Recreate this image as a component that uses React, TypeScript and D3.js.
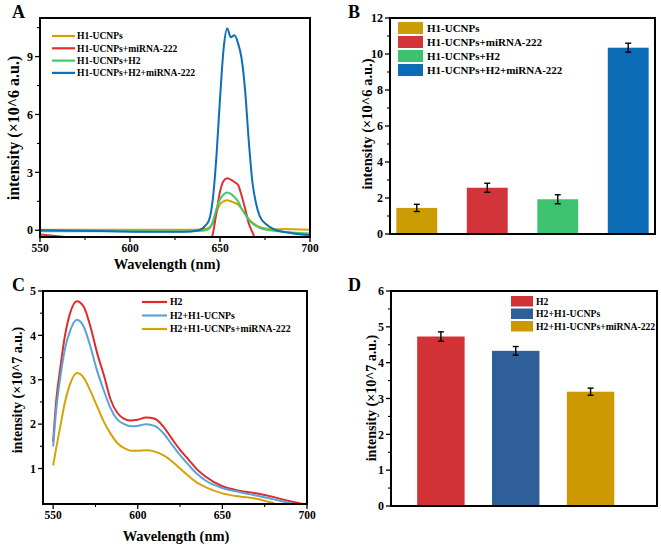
import React from "react";
import * as d3 from "d3";

const FONT = "'Liberation Serif', 'Times New Roman', Times, serif";

// ---------- Panel A: upconversion spectra ----------
const wlA = [550, 570, 590, 610, 630, 638, 642, 644, 646, 648, 650, 652, 654, 656, 658, 660, 662, 664, 666, 668, 670, 672, 676, 680, 685, 690, 700];
const aOrange = [0.03, 0.03, 0.02, 0.02, 0.02, 0.03, 0.06, 0.15, 0.35, 0.95, 1.35, 1.5, 1.56, 1.5, 1.43, 1.33, 1.12, 0.85, 0.58, 0.4, 0.27, 0.17, 0.08, 0.05, 0.06, 0.05, 0.03];
const aRed = [-0.22, -0.4, -0.6, -0.6, -0.6, -0.6, -0.6, -0.6, -0.2, 0.9, 2.0, 2.55, 2.7, 2.62, 2.5, 2.35, 1.8, 1.1, 0.35, -0.1, -0.5, -0.6, -0.6, -0.6, -0.6, -0.6, -0.6];
const aGreen = [-0.05, -0.05, -0.05, -0.06, -0.06, -0.04, 0.0, 0.08, 0.45, 1.1, 1.6, 1.85, 1.95, 1.88, 1.72, 1.5, 1.12, 0.82, 0.55, 0.35, 0.22, 0.13, 0.02, -0.03, -0.08, -0.12, -0.17];
const aBlue = [0.0, -0.02, -0.05, -0.08, -0.08, 0.0, 0.25, 0.55, 1.6, 3.8, 6.8, 9.4, 10.45, 10.0, 10.1, 9.7, 8.9, 7.2, 4.6, 2.5, 1.4, 0.75, 0.28, 0.05, -0.08, -0.15, -0.25];
const aNames = ["H1-UCNPs", "H1-UCNPs+miRNA-222", "H1-UCNPs+H2", "H1-UCNPs+H2+miRNA-222"];
const aColors = ["#D9A000", "#E0302F", "#3DCB6F", "#0D6EBD"];
const aXTicks = [550, 600, 650, 700];
const aXMinor = [575, 625, 675];
const aYTicks = [0, 3, 6, 9];
const aYMinor = [1.5, 4.5, 7.5, 10.5];

// ---------- Panel B: bar chart ----------
const bCategories = ["H1-UCNPs", "H1-UCNPs+miRNA-222", "H1-UCNPs+H2", "H1-UCNPs+H2+miRNA-222"];
const bValues = [1.45, 2.57, 1.93, 10.35];
const bErrors = [0.2, 0.25, 0.25, 0.25];
const bColors = ["#CC9C05", "#D2343A", "#3DC26F", "#0B6BB5"];
const bYTicks = [0, 2, 4, 6, 8, 10, 12];
const bYMinor = [1, 3, 5, 7, 9, 11];

// ---------- Panel C: fluorescence spectra ----------
const wlC = [550, 552, 554, 557, 560, 564, 568, 572, 576, 580, 584, 588, 592, 596, 600, 605, 610, 615, 620, 625, 630, 635, 640, 650, 660, 670, 680, 690, 700];
const cRed = [1.6, 2.6, 3.2, 4.0, 4.5, 4.77, 4.65, 4.2, 3.6, 3.1, 2.55, 2.25, 2.12, 2.08, 2.1, 2.15, 2.12, 1.95, 1.68, 1.42, 1.2, 0.98, 0.82, 0.6, 0.5, 0.44, 0.36, 0.26, 0.18];
const cBlue = [1.5, 2.4, 3.0, 3.7, 4.1, 4.35, 4.2, 3.75, 3.2, 2.75, 2.35, 2.1, 2.0, 1.95, 1.96, 2.0, 1.96, 1.8, 1.55, 1.3, 1.08, 0.88, 0.73, 0.56, 0.47, 0.39, 0.31, 0.22, 0.17];
const cGold = [1.07, 1.5, 1.9, 2.5, 2.9, 3.15, 3.05, 2.75, 2.4, 2.05, 1.78, 1.57, 1.46, 1.4, 1.4, 1.41, 1.38, 1.3, 1.17, 1.0, 0.83, 0.68, 0.58, 0.44, 0.37, 0.32, 0.22, 0.1, 0.05];
const cNames = ["H2", "H2+H1-UCNPs", "H2+H1-UCNPs+miRNA-222"];
const cColors = ["#E02A2A", "#5AA3D9", "#D6A20A"];
const cXTicks = [550, 600, 650, 700];
const cXMinor = [575, 625, 675];
const cYTicks = [1, 2, 3, 4, 5];
const cYMinor = [1.5, 2.5, 3.5, 4.5];

// ---------- Panel D: bar chart ----------
const dCategories = ["H2", "H2+H1-UCNPs", "H2+H1-UCNPs+miRNA-222"];
const dValues = [4.73, 4.33, 3.19];
const dErrors = [0.13, 0.12, 0.1];
const dColors = ["#D03236", "#2F5F98", "#CC9A00"];
const dYTicks = [0, 1, 2, 3, 4, 5, 6];
const dYMinor = [0.5, 1.5, 2.5, 3.5, 4.5, 5.5];

type Lin = d3.ScaleLinear<number, number>;

function YAxis({ y, x0, ticks, minor, fs = 12 }: { y: Lin; x0: number; ticks: number[]; minor: number[]; fs?: number }) {
  return (
    <g>
      {ticks.map((t) => (
        <g key={"t" + t}>
          <line x1={x0} x2={x0 - 5} y1={y(t)} y2={y(t)} stroke="#000" strokeWidth={1.3} />
          <text x={x0 - 7} y={y(t)} dy="0.35em" textAnchor="end" fontSize={fs} fontWeight="bold" fontFamily={FONT}>
            {t}
          </text>
        </g>
      ))}
      {minor.map((t) => (
        <line key={"m" + t} x1={x0} x2={x0 - 3} y1={y(t)} y2={y(t)} stroke="#000" strokeWidth={1.1} />
      ))}
    </g>
  );
}

function XAxis({ x, y0, ticks, minor, fs = 11.5 }: { x: Lin; y0: number; ticks: number[]; minor: number[]; fs?: number }) {
  return (
    <g>
      {ticks.map((t) => (
        <g key={"t" + t}>
          <line x1={x(t)} x2={x(t)} y1={y0} y2={y0 + 5} stroke="#000" strokeWidth={1.3} />
          <text x={x(t)} y={y0 + 15} textAnchor="middle" fontSize={fs} fontWeight="bold" fontFamily={FONT}>
            {t}
          </text>
        </g>
      ))}
      {minor.map((t) => (
        <line key={"m" + t} x1={x(t)} x2={x(t)} y1={y0} y2={y0 + 3} stroke="#000" strokeWidth={1.1} />
      ))}
    </g>
  );
}

function Frame({ x0, x1, y0, y1 }: { x0: number; x1: number; y0: number; y1: number }) {
  return <rect x={x0} y={y1} width={x1 - x0} height={y0 - y1} fill="none" stroke="#000" strokeWidth={2} />;
}

function YTitle({ x, y, text, fs }: { x: number; y: number; text: string; fs: number }) {
  return (
    <text
      transform={`translate(${x},${y}) rotate(-90)`}
      textAnchor="middle"
      dy="0.35em"
      fontSize={fs}
      fontWeight="bold"
      fontFamily={FONT}
    >
      {text}
    </text>
  );
}

function PanelLabel({ x, y, text }: { x: number; y: number; text: string }) {
  return (
    <text x={x} y={y} fontSize={18} fontWeight="bold" fontFamily={FONT}>
      {text}
    </text>
  );
}

export default function App() {
  // Panel A scales
  const ax = d3.scaleLinear().domain([550, 700]).range([40, 310]);
  const ay = d3.scaleLinear().domain([-0.35, 11]).range([237, 18]);
  const aSeries = [aOrange, aRed, aGreen, aBlue];
  const aLine = (vals: number[]) =>
    d3
      .line<number>()
      .x((_, i) => ax(wlA[i]))
      .y((v) => ay(v))
      .curve(d3.curveMonotoneX)(vals) || "";

  // Panel B scales
  const bx = d3.scaleBand<string>().domain(bCategories).range([390, 655]).paddingInner(0.42).paddingOuter(0.09);
  const by = d3.scaleLinear().domain([0, 12]).range([234, 18]);

  // Panel C scales
  const cx = d3.scaleLinear().domain([544, 700]).range([43, 307]);
  const cy = d3.scaleLinear().domain([0.2, 5]).range([504, 291]);
  const cSeries = [cRed, cBlue, cGold];
  const cLine = (vals: number[]) =>
    d3
      .line<number>()
      .x((_, i) => cx(wlC[i]))
      .y((v) => cy(v))
      .curve(d3.curveMonotoneX)(vals) || "";

  // Panel D scales
  const dx = d3.scaleBand<string>().domain(dCategories).range([391, 657]).paddingInner(0.366).paddingOuter(0.46).align(0.38);
  const dy = d3.scaleLinear().domain([0, 6]).range([506, 291]);

  return (
    <svg
      width={661}
      height={547}
      style={{ position: "absolute", left: 0, top: 0, background: "#fff" }}
      fontFamily={FONT}
    >
      <defs>
        <clipPath id="clipA">
          <rect x={40} y={18} width={270} height={219} />
        </clipPath>
        <clipPath id="clipC">
          <rect x={43} y={291} width={264} height={213} />
        </clipPath>
      </defs>
      <rect x={0} y={0} width={661} height={547} fill="#fff" />

      {/* ---------- A ---------- */}
      <PanelLabel x={12} y={18} text="A" />
      <g clipPath="url(#clipA)">
        {aSeries.map((s, i) => (
          <path key={i} d={aLine(s)} fill="none" stroke={aColors[i]} strokeWidth={2} strokeLinejoin="round" />
        ))}
      </g>
      <Frame x0={40} x1={310} y0={237} y1={18} />
      <YAxis y={ay} x0={40} ticks={aYTicks} minor={aYMinor} />
      <XAxis x={ax} y0={237} ticks={aXTicks} minor={aXMinor} />
      <YTitle x={13} y={128} text="intensity (×10^6 a.u.)" fs={16} />
      <text x={167} y={269} textAnchor="middle" fontSize={14.5} fontWeight="bold" fontFamily={FONT}>
        Wavelength (nm)
      </text>
      {aNames.map((n, i) => (
        <g key={n}>
          <line x1={52} x2={75} y1={36 + i * 12.3} y2={36 + i * 12.3} stroke={aColors[i]} strokeWidth={2.2} />
          <text x={77} y={36 + i * 12.3} dy="0.35em" fontSize={9.6} fontWeight="bold" fontFamily={FONT}>
            {n}
          </text>
        </g>
      ))}

      {/* ---------- B ---------- */}
      <PanelLabel x={348} y={18} text="B" />
      {bCategories.map((c, i) => {
        const x0 = bx(c) as number;
        const cxm = x0 + bx.bandwidth() / 2;
        return (
          <g key={c}>
            <rect x={x0} y={by(bValues[i])} width={bx.bandwidth()} height={by(0) - by(bValues[i])} fill={bColors[i]} />
            <line x1={cxm} x2={cxm} y1={by(bValues[i] - bErrors[i])} y2={by(bValues[i] + bErrors[i])} stroke="#000" strokeWidth={1.4} />
            <line x1={cxm - 3} x2={cxm + 3} y1={by(bValues[i] + bErrors[i])} y2={by(bValues[i] + bErrors[i])} stroke="#000" strokeWidth={1.4} />
            <line x1={cxm - 3} x2={cxm + 3} y1={by(bValues[i] - bErrors[i])} y2={by(bValues[i] - bErrors[i])} stroke="#000" strokeWidth={1.4} />
          </g>
        );
      })}
      <Frame x0={390} x1={655} y0={234} y1={18} />
      <YAxis y={by} x0={390} ticks={bYTicks} minor={bYMinor} />
      <YTitle x={367} y={124} text="intensity (×10^6 a.u.)" fs={14.5} />
      {bCategories.map((c, i) => (
        <g key={"lg" + c}>
          <rect x={398} y={22 + i * 14} width={25} height={12} fill={bColors[i]} />
          <text x={427} y={28 + i * 14} dy="0.35em" fontSize={11} fontWeight="bold" fontFamily={FONT}>
            {c}
          </text>
        </g>
      ))}

      {/* ---------- C ---------- */}
      <PanelLabel x={12} y={291} text="C" />
      <g clipPath="url(#clipC)">
        {cSeries.map((s, i) => (
          <path key={i} d={cLine(s)} fill="none" stroke={cColors[i]} strokeWidth={2} strokeLinejoin="round" />
        ))}
      </g>
      <Frame x0={43} x1={307} y0={504} y1={291} />
      <YAxis y={cy} x0={43} ticks={cYTicks} minor={cYMinor} />
      <XAxis x={cx} y0={504} ticks={cXTicks} minor={cXMinor} />
      <YTitle x={17} y={390} text="intensity (×10^7 a.u.)" fs={14} />
      <text x={176} y={541} textAnchor="middle" fontSize={14.5} fontWeight="bold" fontFamily={FONT}>
        Wavelength (nm)
      </text>
      {cNames.map((n, i) => (
        <g key={n}>
          <line x1={142} x2={167} y1={302 + i * 13.5} y2={302 + i * 13.5} stroke={cColors[i]} strokeWidth={2.2} />
          <text x={170} y={302 + i * 13.5} dy="0.35em" fontSize={9.8} fontWeight="bold" fontFamily={FONT}>
            {n}
          </text>
        </g>
      ))}

      {/* ---------- D ---------- */}
      <PanelLabel x={348} y={291} text="D" />
      {dCategories.map((c, i) => {
        const x0 = dx(c) as number;
        const cxm = x0 + dx.bandwidth() / 2;
        return (
          <g key={c}>
            <rect x={x0} y={dy(dValues[i])} width={dx.bandwidth()} height={dy(0) - dy(dValues[i])} fill={dColors[i]} />
            <line x1={cxm} x2={cxm} y1={dy(dValues[i] - dErrors[i])} y2={dy(dValues[i] + dErrors[i])} stroke="#000" strokeWidth={1.4} />
            <line x1={cxm - 3} x2={cxm + 3} y1={dy(dValues[i] + dErrors[i])} y2={dy(dValues[i] + dErrors[i])} stroke="#000" strokeWidth={1.4} />
            <line x1={cxm - 3} x2={cxm + 3} y1={dy(dValues[i] - dErrors[i])} y2={dy(dValues[i] - dErrors[i])} stroke="#000" strokeWidth={1.4} />
          </g>
        );
      })}
      <Frame x0={391} x1={657} y0={506} y1={291} />
      <YAxis y={dy} x0={391} ticks={dYTicks} minor={dYMinor} />
      <YTitle x={371} y={398} text="intensity (×10^7 a.u.)" fs={14} />
      {dCategories.map((c, i) => (
        <g key={"lg" + c}>
          <rect x={511} y={296 + i * 12.5} width={22} height={10.5} fill={dColors[i]} />
          <text x={536} y={301.5 + i * 12.5} dy="0.35em" fontSize={9.7} fontWeight="bold" fontFamily={FONT}>
            {c}
          </text>
        </g>
      ))}
    </svg>
  );
}
